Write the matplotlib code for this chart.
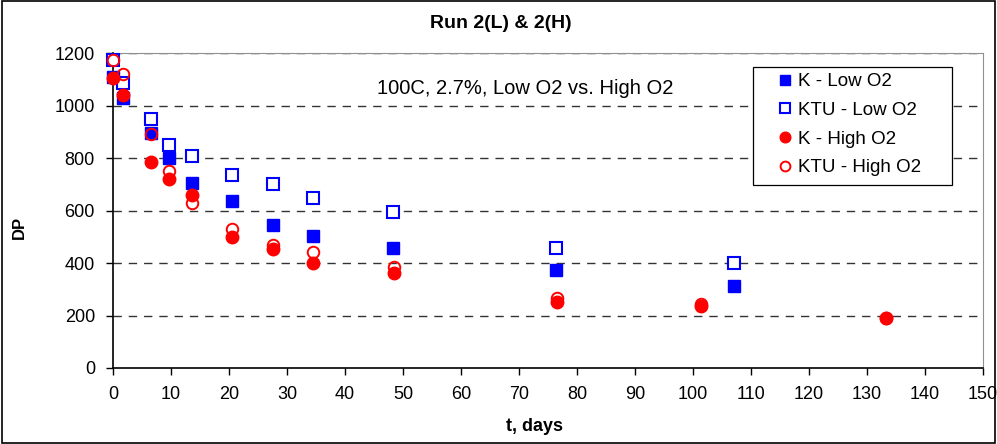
import matplotlib
matplotlib.use("Agg")
import matplotlib.pyplot as plt
from matplotlib.patches import Rectangle

plt.rcParams['font.family'] = ['Liberation Sans', 'DejaVu Sans']

# Sampling times (days) and DP readings
t_low = [0, 1.7, 6.5, 9.7, 13.6, 20.5, 27.5, 34.5, 48.3, 76.3, 107.1]
k_low = [1110, 1027, 896, 799, 706, 635, 545, 503, 456, 373, 312]
ktu_low = [1173, 1085, 947, 851, 809, 737, 701, 646, 593, 456, 401]

t_high = [0, 1.7, 6.5, 9.7, 13.6, 20.5, 27.5, 34.5, 48.5, 76.6, 101.4, 133.2]
k_high = [1106, 1040, 784, 719, 659, 500, 453, 399, 363, 253, 236, 192]
ktu_high = [1173, 1119, 893, 750, 627, 528, 469, 443, 384, 265, 244, 192]

x_ticks = list(range(0, 151, 10))
y_ticks = list(range(0, 1201, 200))

W, H = 997, 444
fig = plt.figure(figsize=(W / 100, H / 100), dpi=100)
# plot area: x 113..983 px, y 53..368 px
ax = fig.add_axes([113 / W, 1 - 368 / H, 870 / W, 315 / H])

ax.plot(t_low, k_low, 's', color='#0000ff', markersize=8.7, label='K - Low O2',
        zorder=3, clip_on=False)
ax.plot(t_low, ktu_low, 's', markerfacecolor='white', markeredgecolor='#0000ff',
        markeredgewidth=1.5, markersize=8, label='KTU - Low O2', zorder=4, clip_on=False)
ax.plot(t_high, k_high, 'o', color='#ff0000', markersize=9, label='K - High O2',
        zorder=5, clip_on=False)
ax.plot(t_high, ktu_high, 'o', markerfacecolor='none', markeredgecolor='#ff0000',
        markeredgewidth=1.4, markersize=8.3, label='KTU - High O2', zorder=6, clip_on=False)

ax.set_xlim(0, 150)
ax.set_ylim(0, 1200)
ax.set_xticks(x_ticks)
ax.set_yticks(y_ticks)
ax.tick_params(direction='out', length=5, width=1, labelsize=13, pad=8)

for y in y_ticks[1:]:
    ax.axhline(y, color='#333333', linestyle=(0, (6, 5)), linewidth=1, zorder=1)

for side in ['top', 'right']:
    ax.spines[side].set_color('#909090')
for side in ['left', 'bottom']:
    ax.spines[side].set_color('black')
    ax.spines[side].set_linewidth(1.2)

ax.set_xlabel('t, days', fontsize=13, fontweight='bold')
ax.xaxis.set_label_coords((535 - 113) / 870, (368 - 418) / 315)
ax.set_ylabel('DP', fontsize=12, fontweight='bold')
ax.yaxis.set_label_coords((27 - 113) / 870, (368 - 227) / 315)
fig.text(501 / W, 1 - 24 / H, 'Run 2(L) & 2(H)', ha='center', va='center',
         fontsize=14, fontweight='bold')

ax.text((525 - 113) / 870, (368 - 88) / 315, '100C, 2.7%, Low O2 vs. High O2',
        transform=ax.transAxes, ha='center', va='center', fontsize=14.5)

# legend entries without frame; box drawn separately underneath
leg = ax.legend(loc='upper left', bbox_to_anchor=((776 - 113) / 870, (368 - 73) / 315),
                fontsize=13.5, frameon=False, handletextpad=0.2, handlelength=1.0,
                borderpad=0, labelspacing=0.62, borderaxespad=0, markerscale=0.85)
leg.set_zorder(10)
box = Rectangle((753 / W, 1 - 185 / H), 199 / W, 118 / H, transform=fig.transFigure,
                facecolor='white', edgecolor='black', linewidth=0.9, zorder=8,
                clip_on=False)
ax.add_patch(box)

fig.patches.append(Rectangle((0.002, 0.003), 0.996, 0.994, transform=fig.transFigure,
                             fill=False, edgecolor='black', linewidth=1.2))

fig.savefig('out.png', dpi=100)
